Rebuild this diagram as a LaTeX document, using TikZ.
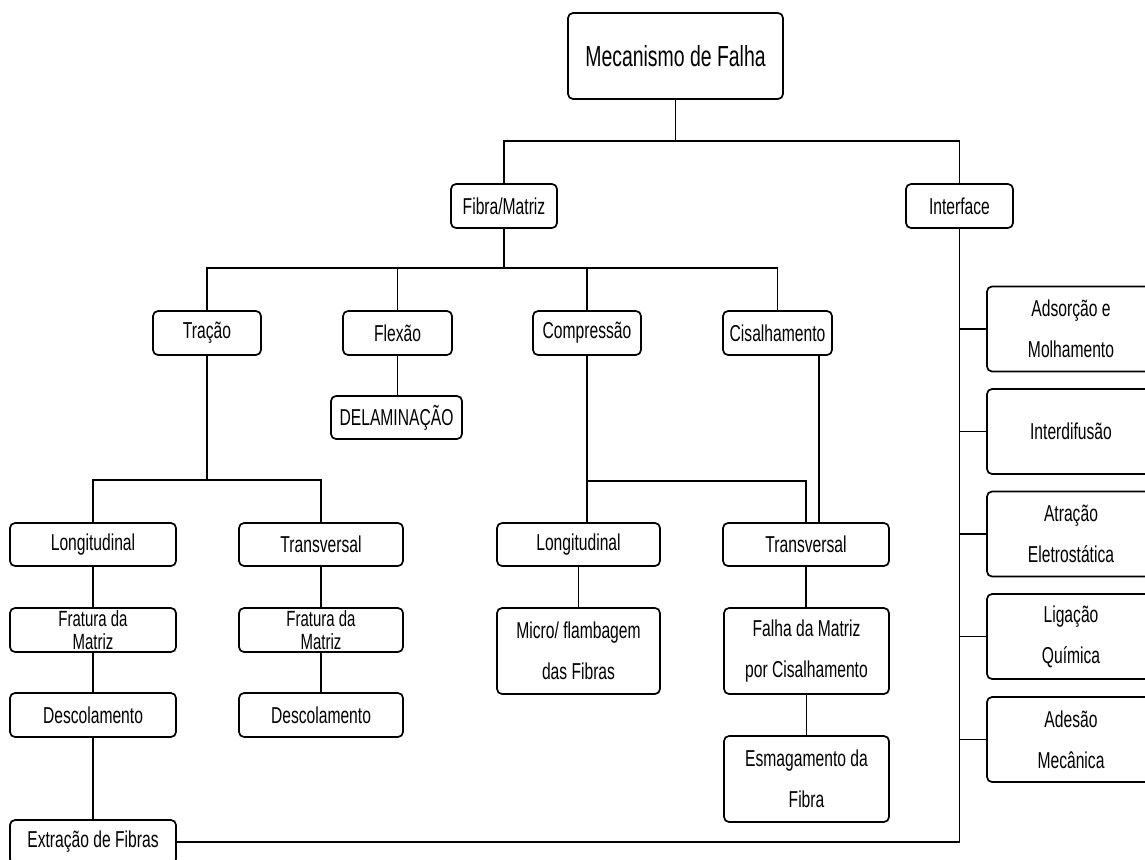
\documentclass[tikz,border=0pt]{standalone}
\usepackage{fontspec}
\setmainfont{Liberation Sans}[FakeStretch=0.68]
\newfontfamily\titlefont{Liberation Sans}[FakeStretch=0.67]
\begin{document}
\begin{tikzpicture}[x=1pt,y=-1pt,
  every node/.style={font=\fontsize{23}{41}\selectfont},
  box/.style={draw=black, line width=1.7pt, rounded corners=5pt, inner sep=0pt,
    align=center, minimum height=44pt},
  tall/.style={box, minimum height=86pt},
  tight/.style={font=\fontsize{22}{23}\selectfont},
  link/.style={draw=black, line width=1.5pt}]
\useasboundingbox (0,0) rectangle (1145,859);
\clip (0,0) rectangle (1145,859);

% top levels
\node[box, minimum width=215pt, minimum height=86pt, font=\titlefont\fontsize{29}{32}\selectfont]
  (mec) at (675.5,56) {Mecanismo de Falha};
\node[box, minimum width=106pt] (fm) at (504,206) {Fibra/Matriz};
\node[box, minimum width=107pt] (inter) at (959.5,206) {Interface};

% loading modes
\node[box, minimum width=108pt] (tra) at (207,333) {Tração};
\node[box, minimum width=109pt] (flex) at (397.5,333) {Flexão};
\node[box, minimum width=108pt] (comp) at (587,333) {Compressão};
\node[box, minimum width=109pt] (cis) at (777.5,333) {Cisalhamento};
\node[box, minimum width=131pt, minimum height=43pt] (del) at (396.5,417.5) {DELAMINAÇÃO};

% orientation level
\node[box, minimum width=166pt, minimum height=43pt] (lon1) at (93,544.5) {Longitudinal};
\node[box, minimum width=164pt, minimum height=43pt] (trv1) at (321,544.5) {Transversal};
\node[box, minimum width=163pt, minimum height=43pt] (lon2) at (578.5,544.5) {Longitudinal};
\node[box, minimum width=166pt, minimum height=43pt] (trv2) at (806,544.5) {Transversal};

% traction failure chain
\node[box, tight, minimum width=166pt] (fra1) at (93,630) {Fratura da\\Matriz};
\node[box, tight, minimum width=164pt] (fra2) at (321,630) {Fratura da\\Matriz};
\node[box, minimum width=166pt] (des1) at (93,715) {Descolamento};
\node[box, minimum width=164pt] (des2) at (321,715) {Descolamento};
\node[box, minimum width=166pt] (ext) at (93,842) {Extração de Fibras};

% compression / shear chain
\node[tall, minimum width=163pt] (mic) at (578.5,651) {Micro/ flambagem\\das Fibras};
\node[tall, minimum width=165pt] (fal) at (806.5,651) {Falha da Matriz\\por Cisalhamento};
\node[tall, minimum width=165pt] (esm) at (806.5,779) {Esmagamento da\\Fibra};

% interface mechanisms
\node[tall, minimum width=168pt, minimum height=85pt] (ads) at (1071,329) {Adsorção e\\Molhamento};
\node[tall, minimum width=168pt, minimum height=85pt] (idf) at (1071,431.5) {Interdifusão};
\node[tall, minimum width=168pt, minimum height=85pt] (atr) at (1071,534) {Atração\\Eletrostática};
\node[tall, minimum width=168pt, minimum height=85pt] (lig) at (1071,636.5) {Ligação\\Química};
\node[tall, minimum width=168pt, minimum height=85pt] (ade) at (1071,739.5) {Adesão\\Mecânica};

% bus heights
\coordinate (b1) at (0,141);
\coordinate (b2) at (0,268);
\coordinate (b3) at (0,480);
\coordinate (b4) at (0,481);
\coordinate (cisout) at ([xshift=41.5pt]cis.south);

% connectors
\draw[link] (mec.south) -- (mec.south |- b1);
\draw[link] (fm.north) -- (fm.north |- b1) -- (inter.north |- b1) -- (inter.north);

\draw[link] (fm.south) -- (fm.south |- b2);
\draw[link] (tra.north) -- (tra.north |- b2) -- (cis.north |- b2) -- (cis.north);
\draw[link] (flex.north) -- (flex.north |- b2);
\draw[link] (comp.north) -- (comp.north |- b2);
\draw[link] (flex.south) -- (flex.south |- del.north);

\draw[link] (tra.south) -- (tra.south |- b3);
\draw[link] (lon1.north) -- (lon1.north |- b3) -- (trv1.north |- b3) -- (trv1.north);

\draw[link] (comp.south) -- (comp.south |- lon2.north);
\draw[link] (comp.south |- b4) -- (trv2.north |- b4) -- (trv2.north);
\draw[link] (cisout) -- (cisout |- trv2.north);

\draw[link] (lon1) -- (fra1);
\draw[link] (fra1) -- (des1);
\draw[link] (des1) -- (ext);
\draw[link] (trv1) -- (fra2);
\draw[link] (fra2) -- (des2);
\draw[link] (lon2.south) -- (mic.north);
\draw[link] (trv2.south) -- (trv2.south |- fal.north);
\draw[link] (fal) -- (esm);

\draw[link] (inter.south) |- (ext.east);
\foreach \m in {ads,idf,atr,lig,ade}
  \draw[link] (inter.south |- \m.west) -- (\m.west);
\end{tikzpicture}
\end{document}
